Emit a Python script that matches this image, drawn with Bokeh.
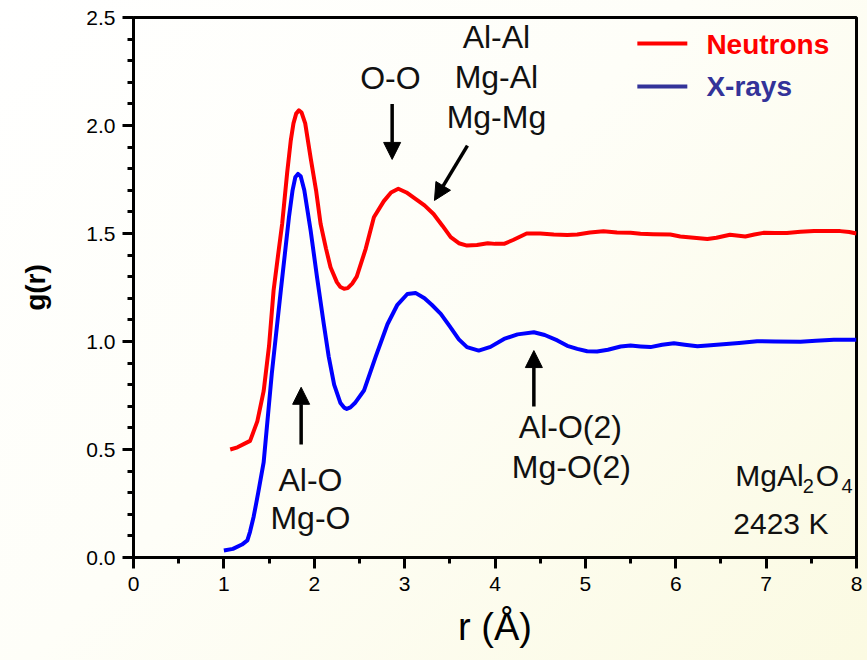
from bokeh.plotting import figure
from bokeh.models import Label, Arrow, NormalHead, Range1d, FixedTicker, CustomJSTickFormatter
from bokeh.embed import file_html
from bokeh.resources import INLINE

# Pair distribution function g(r) of liquid MgAl2O4 at 2423 K
r_neutrons = [1.07, 1.15, 1.29, 1.37, 1.44, 1.50, 1.55, 1.60, 1.645, 1.70, 1.74, 1.77, 1.80,
              1.83, 1.86, 1.90, 1.96, 2.02, 2.07, 2.13, 2.18, 2.25, 2.29, 2.33, 2.37, 2.42,
              2.47, 2.57, 2.66, 2.77, 2.85, 2.93, 3.02, 3.12, 3.22, 3.32, 3.42, 3.51, 3.60,
              3.69, 3.80, 3.92, 4.00, 4.10, 4.20, 4.35, 4.50, 4.65, 4.80, 4.91, 5.05, 5.20,
              5.35, 5.50, 5.61, 5.75, 5.94, 6.05, 6.20, 6.35, 6.45, 6.60, 6.77, 6.87,
              6.97, 7.10, 7.23, 7.38, 7.53, 7.70, 7.82, 7.92, 8.00]
g_neutrons = [0.500, 0.510, 0.540, 0.630, 0.770, 0.980, 1.236, 1.400, 1.545, 1.780, 1.930, 2.010, 2.055,
              2.070, 2.060, 2.010, 1.850, 1.700, 1.545, 1.430, 1.344, 1.275, 1.252, 1.244, 1.247, 1.268,
              1.300, 1.430, 1.575, 1.650, 1.690, 1.707, 1.690, 1.660, 1.630, 1.590, 1.535, 1.483, 1.455,
              1.444, 1.447, 1.455, 1.452, 1.452, 1.470, 1.500, 1.500, 1.495, 1.493, 1.495, 1.505, 1.510,
              1.505, 1.503, 1.499, 1.497, 1.495, 1.486, 1.480, 1.475, 1.480, 1.494, 1.486, 1.495,
              1.503, 1.502, 1.502, 1.508, 1.512, 1.512, 1.511, 1.507, 1.500]

r_xrays = [1.00, 1.10, 1.20, 1.26, 1.29, 1.33, 1.38, 1.44, 1.53, 1.63, 1.72, 1.76, 1.79,
           1.82, 1.85, 1.89, 1.96, 2.03, 2.105, 2.16, 2.22, 2.29, 2.33, 2.36, 2.40, 2.45,
           2.55, 2.68, 2.81, 2.92, 3.03, 3.12, 3.22, 3.30, 3.40, 3.50, 3.60, 3.69, 3.82,
           3.95, 4.10, 4.25, 4.43, 4.55, 4.69, 4.80, 4.91, 5.02, 5.13, 5.25, 5.39, 5.50,
           5.61, 5.72, 5.85, 5.98, 6.10, 6.24, 6.35, 6.49, 6.70, 6.90, 7.10, 7.38,
           7.55, 7.75, 8.00]
g_xrays = [0.032, 0.040, 0.060, 0.079, 0.120, 0.190, 0.300, 0.440, 0.850, 1.236, 1.575, 1.700, 1.760,
           1.776, 1.765, 1.700, 1.514, 1.300, 1.082, 0.930, 0.800, 0.715, 0.694, 0.688, 0.695, 0.715,
           0.773, 0.930, 1.080, 1.170, 1.220, 1.225, 1.200, 1.170, 1.128, 1.070, 1.010, 0.974, 0.958,
           0.975, 1.012, 1.033, 1.043, 1.030, 1.005, 0.980, 0.966, 0.955, 0.954, 0.962, 0.977, 0.981,
           0.977, 0.974, 0.985, 0.992, 0.985, 0.978, 0.982, 0.986, 0.993, 1.001, 1.000, 0.999,
           1.004, 1.008, 1.008]

x_ticks = [0, 1, 2, 3, 4, 5, 6, 7, 8]
y_ticks = [0.0, 0.5, 1.0, 1.5, 2.0, 2.5]

FONT = "Liberation Sans"
RED = "#ff0000"
BLUE = "#0000ff"
NAVY = "#333399"

p = figure(width=867, height=660, output_backend="svg", toolbar_location=None,
           x_range=Range1d(0, 8), y_range=Range1d(0, 2.5),
           min_border_left=133, min_border_right=11, min_border_top=17, min_border_bottom=103,
           background_fill_alpha=0, border_fill_alpha=0)
p.styles = {"background": "linear-gradient(135deg, #ffffff 0%, #fefef8 45%, #fbfae2 100%)"}

p.grid.visible = False
p.outline_line_color = "black"
p.outline_line_width = 3

for ax in (p.xaxis[0], p.yaxis[0]):
    ax.axis_line_width = 3
    ax.axis_line_color = "black"
    ax.major_tick_line_width = 3
    ax.minor_tick_line_width = 3
    ax.major_tick_line_color = "black"
    ax.minor_tick_line_color = "black"
    ax.major_tick_in = 0
    ax.major_tick_out = 11
    ax.minor_tick_in = 0
    ax.minor_tick_out = 6
    ax.major_label_text_font = FONT
    ax.major_label_text_font_size = "21px"
    ax.major_label_text_color = "black"
    ax.axis_label_text_font = FONT
    ax.axis_label_text_color = "black"

p.xaxis[0].ticker = FixedTicker(ticks=x_ticks, minor_ticks=[v + 0.5 for v in x_ticks[:-1]])
p.yaxis[0].ticker = FixedTicker(ticks=y_ticks,
                                minor_ticks=[round(i * 0.1, 1) for i in range(26) if i % 5])
p.xaxis[0].major_label_standoff = 8
p.yaxis[0].major_label_standoff = 7
p.yaxis[0].formatter = CustomJSTickFormatter(code="return tick.toFixed(1);")

p.xaxis[0].axis_label = "r (Å)"
p.xaxis[0].axis_label_text_font_size = "38px"
p.xaxis[0].axis_label_text_font_style = "normal"
p.xaxis[0].axis_label_standoff = 12

p.yaxis[0].axis_label = "g(r)"
p.yaxis[0].axis_label_text_font_size = "28px"
p.yaxis[0].axis_label_text_font_style = "bold"
p.yaxis[0].axis_label_standoff = 32

# the two measured curves
p.line(r_neutrons, g_neutrons, line_color=RED, line_width=4, line_join="round")
p.line(r_xrays, g_xrays, line_color=BLUE, line_width=4, line_join="round")

# legend drawn by hand in the upper right corner
p.line([5.575, 6.128], [2.380, 2.380], line_color=RED, line_width=4)
p.line([5.575, 6.128], [2.181, 2.181], line_color=NAVY, line_width=4)

DY = 0.051  # lift of the text baselines


def note(x, y, txt, size="32px", align="center", color="#111111", style="normal"):
    p.add_layout(Label(x=x, y=y + DY, text=txt, text_font=FONT, text_font_size=size,
                       text_font_style=style, text_color=color, text_align=align,
                       text_baseline="alphabetic"))


def pointer(x0, y0, x1, y1):
    p.add_layout(Arrow(x_start=x0, y_start=y0, x_end=x1, y_end=y1,
                       line_width=3.5, line_color="black",
                       end=NormalHead(size=17, fill_color="black", line_color="black",
                                      line_width=1)))


note(6.339, 2.324, "Neutrons", size="28px", align="left", color=RED, style="bold")
note(6.339, 2.130, "X-rays", size="28px", align="left", color=NAVY, style="bold")

# peak assignments
note(2.843, 2.171, "O-O")
pointer(2.862, 2.10, 2.862, 1.843)

note(4.016, 2.361, "Al-Al")
note(4.016, 2.172, "Mg-Al")
note(4.016, 1.987, "Mg-Mg")
pointer(3.695, 1.907, 3.33, 1.653)

note(1.958, 0.306, "Al-O")
note(1.958, 0.130, "Mg-O")
pointer(1.855, 0.523, 1.855, 0.788)

note(4.834, 0.551, "Al-O(2)")
note(4.845, 0.366, "Mg-O(2)")
pointer(4.43, 0.699, 4.43, 0.958)

# composition and temperature
note(6.659, 0.329, "MgAl", size="30px", align="left")
note(7.405, 0.278, "2", size="20px", align="left")
note(7.550, 0.329, "O", size="30px", align="left")
note(7.835, 0.278, "4", size="20px", align="left")
note(6.637, 0.106, "2423 K", size="30px", align="left")

open("out.html", "w").write(file_html(p, INLINE))
